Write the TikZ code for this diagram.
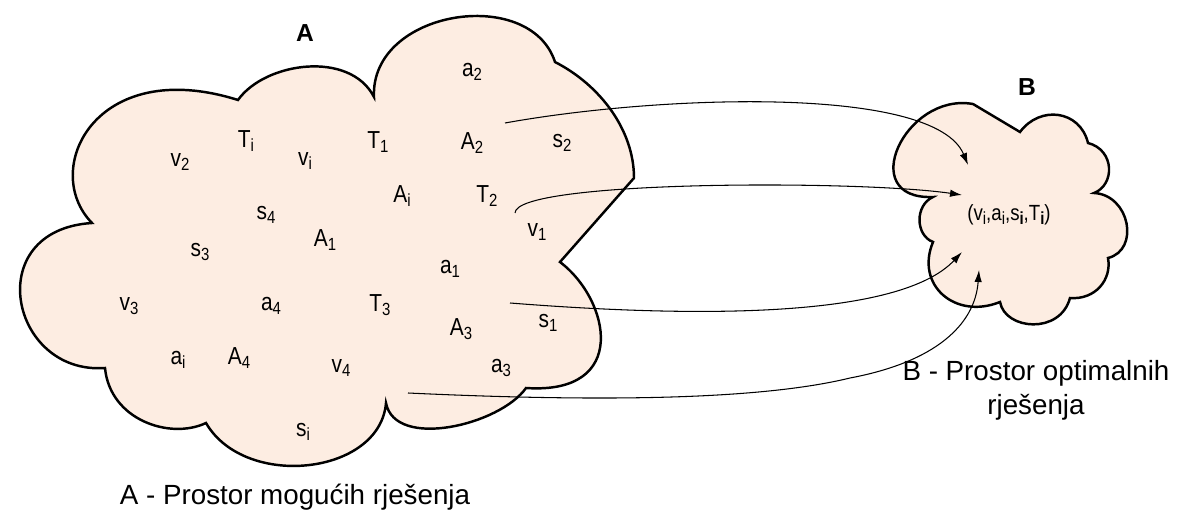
\documentclass[tikz,border=0pt]{standalone}
\usepackage{fontspec}
\setmainfont{Liberation Sans}
\newfontfamily\labelfont[FakeStretch=0.85]{Liberation Sans}
\usepackage{tikz}
\usepackage{xcolor}
\usetikzlibrary{arrows.meta, positioning}
\definecolor{cloudfill}{RGB}{253,237,226}
\newcommand{\subidx}[1]{\raisebox{-2.2pt}{\fontsize{10}{12}\selectfont #1}}

\begin{document}
\begin{tikzpicture}[
            x=0.02cm, y=-0.02cm,
            cloud/.style={draw, line width=1.4pt, fill=cloudfill},
            var/.style={inner sep=0pt, font=\labelfont\fontsize{14}{16}\selectfont},
            title/.style={inner sep=0pt, font=\fontsize{14}{17}\selectfont\bfseries},
            caption/.style={inner sep=0pt, align=center, font=\fontsize{15.8}{19.3}\selectfont},
            map/.style={line width=0.6pt, -{Latex[length=2.4mm, width=1.5mm]}},
        ]
            \useasboundingbox (0,0) rectangle (1186,523);

            % space A
            \draw[cloud] (238,100)
                .. controls (265,62) and (350,50) .. (374,97)
                .. controls (370,10) and (530,-15) .. (555,62)
                .. controls (600,85) and (634,130) .. (634,178)
                -- (560,262)
                .. controls (610,300) and (630,395) .. (526,388)
                .. controls (500,425) and (395,450) .. (386,403)
                .. controls (380,475) and (245,490) .. (206,423)
                .. controls (170,440) and (110,420) .. (105,368)
                .. controls (10,375) and (-20,230) .. (92,223)
                .. controls (40,170) and (95,55) .. (238,100)
                -- cycle;

            % space B
            \draw[cloud] (1020,132) -- (973,104)
                .. controls (905,92) and (855,200) .. (933,197)
                .. controls (915,205) and (915,235) .. (933,242)
                .. controls (915,285) and (955,320) .. (1000,302)
                .. controls (1005,330) and (1060,335) .. (1070,298)
                .. controls (1095,300) and (1112,280) .. (1108,258)
                .. controls (1140,250) and (1130,195) .. (1094,193)
                .. controls (1115,185) and (1115,150) .. (1088,143)
                .. controls (1080,110) and (1040,105) .. (1020,132)
                -- cycle;

            \node[title] (titleA) at (305,33) {A};
            \node[title] (titleB) at (1027,87) {B};

            \node[var] (a2) at (472,72) {a\subidx{2}};
            \node[var] (Ti) at (246,141) {T\subidx{i}};
            \node[var] (vi) at (305,161) {v\subidx{i}};
            \node[var] (T1) at (378,142) {T\subidx{1}};
            \node[var] (A2) at (472,143) {A\subidx{2}};
            \node[var] (s2) at (562,143) {s\subidx{2}};
            \node[var] (v2) at (180,162) {v\subidx{2}};
            \node[var] (Ai) at (402,196) {A\subidx{i}};
            \node[var] (T2) at (487,196) {T\subidx{2}};
            \node[var] (s4) at (266,215) {s\subidx{4}};
            \node[var] (A1) at (325,240) {A\subidx{1}};
            \node[var] (v1) at (537,232) {v\subidx{1}};
            \node[var] (s3) at (200,252) {s\subidx{3}};
            \node[var] (a1) at (450,269) {a\subidx{1}};
            \node[var] (v3) at (129,306) {v\subidx{3}};
            \node[var] (a4) at (271,306) {a\subidx{4}};
            \node[var] (T3) at (380,305) {T\subidx{3}};
            \node[var] (A3) at (461,329) {A\subidx{3}};
            \node[var] (s1) at (548,323) {s\subidx{1}};
            \node[var] (ai) at (178,360) {a\subidx{i}};
            \node[var] (A4) at (239,358) {A\subidx{4}};
            \node[var] (v4) at (341,368) {v\subidx{4}};
            \node[var] (a3) at (501,368) {a\subidx{3}};
            \node[var] (si) at (303,432) {s\subidx{i}};

            \node[var, font=\labelfont\fontsize{12.5}{14}\selectfont] (opt) at (1009,215)
                {(v\subidx{i},a\subidx{i},s\subidx{\textbf{i}},T\subidx{\textbf{i}})};

            \node[caption] (capA) at (295,497) {A - Prostor mogućih rješenja};
            \node[caption] (capB) at (1036,390) {B - Prostor optimalnih\\rješenja};

            % mappings A -> B
            \coordinate (from1) at (505,123);
            \coordinate (from2) at (515,213);
            \coordinate (from3) at (510,303);
            \coordinate (from4) at (408,393);
            \coordinate (to1) at (968,165);
            \coordinate (to2) at (962,195);
            \coordinate (to3) at (962,252);
            \coordinate (to4) at (979,270);

            \draw[map] (from1) .. controls (660,95) and (935,85) .. (to1);
            \draw[map] (from2) .. controls (515,180) and (860,180) .. (to2);
            \draw[map] (from3) .. controls (700,318) and (900,318) .. (to3);
            \draw[map] (from4) .. controls (600,402) and (760,400) .. (850,378)
                .. controls (935,362) and (975,325) .. (to4);
        \end{tikzpicture}
\end{document}
